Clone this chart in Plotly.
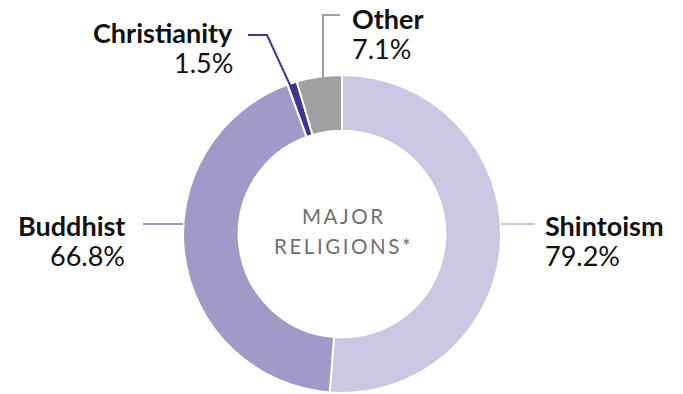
import plotly.graph_objects as go

W, H = 683, 394

# ---- data ----
religions = ["Shintoism", "Buddhist", "Christianity", "Other"]
shares = [79.2, 66.8, 1.5, 7.1]
slice_colors = ["#CBC7E3", "#A299C9", "#3F3590", "#A0A0A0"]
center_lines = ["MAJOR", "RELIGIONS*"]

# ---- layout helpers ----
CX, CY, R = 342, 234, 159  # pixel centre / radius of the donut


def px(x):
    return x / W


def py(y):
    return 1 - y / H


fig = go.Figure(
    go.Pie(
        labels=religions,
        values=shares,
        sort=False,
        direction="clockwise",
        rotation=0,
        hole=0.65,
        textinfo="none",
        hoverinfo="label+value",
        marker=dict(colors=slice_colors, line=dict(color="white", width=2)),
        domain=dict(x=[px(CX - R), px(CX + R)], y=[py(CY + R), py(CY - R)]),
        showlegend=False,
    )
)

FONT = "Lato, 'Open Sans', sans-serif"
LBL = 27
ann = []


def label(x, y, name, val, anchor):
    ann.append(dict(x=px(x), y=py(y), xref="paper", yref="paper", text="<b>%s</b>" % name,
                    showarrow=False, xanchor=anchor, yanchor="middle",
                    font=dict(family=FONT, size=LBL, color="#111111")))
    ann.append(dict(x=px(x), y=py(y + 30), xref="paper", yref="paper", text="%.1f%%" % val,
                    showarrow=False, xanchor=anchor, yanchor="middle",
                    font=dict(family=FONT, size=LBL, color="#111111")))


label(127, 225, religions[1], shares[1], "right")
label(543, 225, religions[0], shares[0], "left")
label(235, 33, religions[2], shares[2], "right")
label(350, 19, religions[3], shares[3], "left")

sp = "\u2009"
for i, t in enumerate(center_lines):
    ann.append(dict(x=px(CX), y=py(216 + 30 * i), xref="paper", yref="paper",
                    text=sp.join(t), showarrow=False, xanchor="center", yanchor="middle",
                    font=dict(family=FONT, size=20.5, color="#707070")))

shapes = [
    # Buddhist leader
    dict(type="line", xref="paper", yref="paper", x0=px(143), y0=py(224), x1=px(CX - R), y1=py(224),
         line=dict(color=slice_colors[1], width=2)),
    # Shintoism leader
    dict(type="line", xref="paper", yref="paper", x0=px(CX + R), y0=py(224), x1=px(535), y1=py(224),
         line=dict(color=slice_colors[0], width=2)),
    # Christianity leader
    dict(type="path", xref="paper", yref="paper",
         path="M %f %f L %f %f L %f %f" % (px(248), py(35), px(267), py(35), px(290), py(85)),
         line=dict(color=slice_colors[2], width=2)),
    # Other leader
    dict(type="path", xref="paper", yref="paper",
         path="M %f %f L %f %f L %f %f" % (px(323), py(78), px(323), py(15), px(340), py(15)),
         line=dict(color=slice_colors[3], width=2)),
]

fig.update_layout(
    width=W, height=H,
    margin=dict(l=0, r=0, t=0, b=0),
    paper_bgcolor="white", plot_bgcolor="white",
    annotations=ann, shapes=shapes,
)

fig.write_html("out.html", config={"displayModeBar": False},
               post_script="document.body.style.margin='0';document.body.style.overflow='hidden';")
